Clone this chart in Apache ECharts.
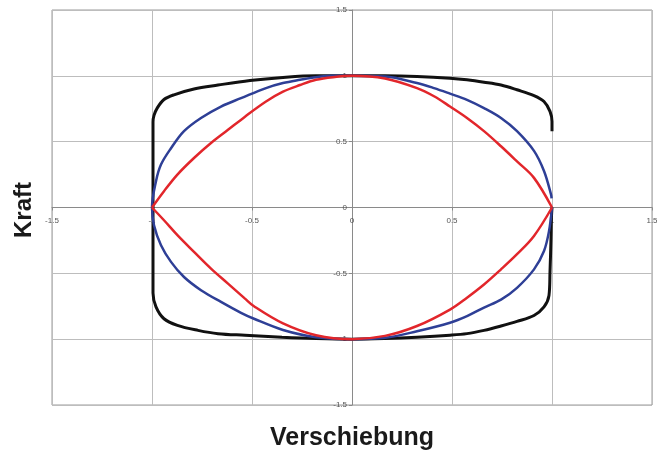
<!DOCTYPE html>
<html>
<head>
<meta charset="utf-8">
<script src="https://cdn.jsdelivr.net/npm/echarts@6/dist/echarts.min.js"></script>
<style>
  html, body { margin: 0; padding: 0; background: #fff; }
  #chart { width: 657px; height: 451px; }
</style>
</head>
<body>
<div id="chart"></div>
<script>
// Axis ticks
const axisTicks = [-1.5, -1, -0.5, 0, 0.5, 1, 1.5];

// Black loop (open at the right side between 0 and ~0.58)
const blackX = [1.0, 1.0, 0.99, 0.96, 0.91, 0.825, 0.745, 0.66, 0.575, 0.49, 0.325, 0.165, 0, -0.18, -0.345, -0.51, -0.67, -0.79, -0.89, -0.94, -0.974, -0.99, -0.995, -0.995, -0.995, -0.995, -0.995, -0.98, -0.94, -0.873, -0.77, -0.67, -0.535, -0.35, -0.18, 0, 0.165, 0.325, 0.49, 0.575, 0.66, 0.745, 0.825, 0.91, 0.96, 0.985, 0.99, 0.995, 0.997, 1.0];
const blackY = [0.58, 0.654, 0.73, 0.805, 0.85, 0.894, 0.93, 0.952, 0.97, 0.982, 0.995, 1.0, 1.0, 1.0, 0.988, 0.965, 0.93, 0.90, 0.856, 0.82, 0.755, 0.70, 0.65, 0.3, 0, -0.3, -0.65, -0.755, -0.845, -0.895, -0.933, -0.958, -0.97, -0.985, -0.995, -1.0, -0.995, -0.985, -0.97, -0.958, -0.933, -0.90, -0.865, -0.82, -0.755, -0.667, -0.49, -0.236, -0.084, 0.0];

// Blue loop
const blueX = [0.998, 0.995, 0.96, 0.91, 0.825, 0.745, 0.66, 0.575, 0.49, 0.41, 0.325, 0.165, 0, -0.095, -0.18, -0.26, -0.345, -0.43, -0.555, -0.655, -0.755, -0.84, -0.905, -0.955, -0.98, -1.0, -0.99, -0.955, -0.905, -0.84, -0.755, -0.655, -0.555, -0.49, -0.345, -0.18, 0, 0.165, 0.325, 0.49, 0.575, 0.66, 0.745, 0.825, 0.91, 0.96, 0.985, 1.0];
const blueY = [0.07, 0.10, 0.277, 0.43, 0.58, 0.68, 0.755, 0.818, 0.865, 0.907, 0.945, 0.995, 1.0, 1.0, 0.99, 0.97, 0.945, 0.907, 0.83, 0.767, 0.68, 0.58, 0.45, 0.326, 0.20, 0.0, -0.135, -0.287, -0.413, -0.528, -0.628, -0.717, -0.80, -0.845, -0.93, -0.985, -1.0, -0.99, -0.94, -0.875, -0.825, -0.76, -0.70, -0.61, -0.47, -0.33, -0.18, 0.0];

// Red loop, upper and lower arcs (sharp corners at x = ±1)
const redTopX = [-1, -0.94, -0.873, -0.79, -0.705, -0.62, -0.535, -0.43, -0.345, -0.26, -0.18, -0.095, 0, 0.165, 0.325, 0.41, 0.49, 0.575, 0.66, 0.745, 0.825, 0.91, 1];
const redTopY = [0, 0.124, 0.25, 0.376, 0.49, 0.59, 0.69, 0.805, 0.88, 0.93, 0.97, 0.99, 1.0, 0.98, 0.907, 0.845, 0.767, 0.68, 0.58, 0.465, 0.35, 0.225, 0];
const redBottomX = [1, 0.91, 0.825, 0.745, 0.66, 0.575, 0.49, 0.325, 0.165, 0, -0.18, -0.345, -0.49, -0.535, -0.62, -0.705, -0.79, -0.873, -0.94, -1];
const redBottomY = [0, -0.216, -0.355, -0.47, -0.585, -0.685, -0.775, -0.9, -0.975, -1.0, -0.97, -0.88, -0.75, -0.692, -0.578, -0.464, -0.337, -0.21, -0.097, 0];

const pairs = (xs, ys) => xs.map((x, i) => [x, ys[i]]);

const chart = echarts.init(document.getElementById('chart'), null, { renderer: 'canvas' });

const gridLeft = 52, gridRight = 5, gridTop = 10, gridBottom = 46;
const gridW = 657 - gridLeft - gridRight;
const gridH = 451 - gridTop - gridBottom;

const labelStyle = { fontFamily: 'Liberation Sans', fontSize: 8, color: '#555' };
function valueAxis(extra) {
  return Object.assign({
    type: 'value',
    min: axisTicks[0],
    max: axisTicks[axisTicks.length - 1],
    interval: 0.5,
    axisLine: { onZero: false, lineStyle: { color: '#8a8a8a', width: 1 } },
    axisTick: { show: true, length: 3, lineStyle: { color: '#8a8a8a' } },
    splitLine: { show: true, lineStyle: { color: '#bdbdbd', width: 1 } }
  }, extra);
}

const line = (data, color, width, z) => ({
  type: 'line', data, showSymbol: false, symbol: 'none', smooth: 0.35,
  lineStyle: { color, width }, z
});

chart.setOption({
  animation: false,
  backgroundColor: '#ffffff',
  grid: {
    left: gridLeft, right: gridRight, top: gridTop, bottom: gridBottom,
    outerBoundsMode: 'none', containLabel: false,
    show: true, borderColor: '#9a9a9a', borderWidth: 1
  },
  // Axes drawn through the origin, at the middle of the plot
  xAxis: valueAxis({
    position: 'bottom', offset: -gridH / 2,
    axisLabel: Object.assign({ margin: 9 }, labelStyle)
  }),
  yAxis: valueAxis({
    position: 'left', offset: -gridW / 2,
    axisLabel: Object.assign({ margin: 5 }, labelStyle)
  }),
  graphic: [
    {
      type: 'text', x: gridLeft + gridW / 2, y: 426,
      style: { text: 'Verschiebung', font: 'bold 25px "Liberation Sans"', fill: '#1a1a1a', textAlign: 'center' }
    },
    {
      type: 'text', x: 12, y: 238, rotation: Math.PI / 2,
      style: { text: 'Kraft', font: 'bold 24px "Liberation Sans"', fill: '#1a1a1a' }
    }
  ],
  series: [
    line(pairs(blackX, blackY), '#111111', 3, 2),
    line(pairs(blueX, blueY), '#2e3f96', 2.5, 3),
    line(pairs(redTopX, redTopY), '#e2262b', 2.5, 4),
    line(pairs(redBottomX, redBottomY), '#e2262b', 2.5, 4)
  ]
});
</script>
</body>
</html>
